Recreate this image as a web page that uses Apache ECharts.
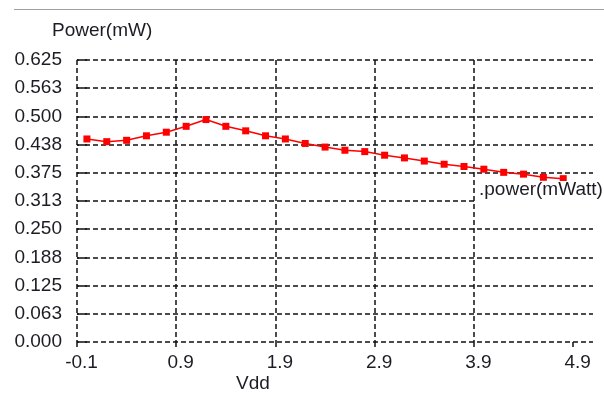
<!DOCTYPE html>
<html>
<head>
<meta charset="utf-8">
<script src="https://cdn.jsdelivr.net/npm/echarts@6/dist/echarts.min.js"></script>
<style>
html,body{margin:0;padding:0;background:#fff;}
#c{width:604px;height:394px;}
</style>
</head>
<body>
<div id="c"></div>
<script>
// Data
const vdd = [0.0, 0.2, 0.4, 0.6, 0.8, 1.0, 1.2, 1.4, 1.6, 1.8, 2.0, 2.2, 2.4, 2.6, 2.8, 3.0, 3.2, 3.4, 3.6, 3.8, 4.0, 4.2, 4.4, 4.6, 4.8];
const power = [0.450, 0.444, 0.447, 0.457, 0.465, 0.478, 0.493, 0.478, 0.468, 0.457, 0.450, 0.440, 0.432, 0.425, 0.422, 0.414, 0.408, 0.401, 0.394, 0.389, 0.383, 0.376, 0.372, 0.365, 0.362];
const xTickValues = [-0.1, 0.9, 1.9, 2.9, 3.9, 4.9];
const xTickLabels = ['-0.1', '0.9', '1.9', '2.9', '3.9', '4.9'];
const yTickLabels = ['0.000', '0.063', '0.125', '0.188', '0.250', '0.313', '0.375', '0.438', '0.500', '0.563', '0.625'];
const seriesName = '.power(mWatt)';
const xName = 'Vdd';
const yName = 'Power(mW)';

const FONT = "'Liberation Sans', Arial, sans-serif";
const TXT = '#1c1c24';
const gridLine = { color: '#111', width: 1.5, type: [5, 3] };

const chart = echarts.init(document.getElementById('c'), null, { renderer: 'canvas' });
chart.setOption({
  animation: false,
  backgroundColor: '#fff',
  grid: { left: 77, top: 60, width: 516, height: 282, containLabel: false },
  xAxis: {
    type: 'value', min: -0.1, max: 5.1, interval: 1,
    axisLine: { show: false },
    axisTick: { show: true, length: 8, lineStyle: gridLine, customValues: xTickValues },
    axisLabel: {
      customValues: xTickValues,
      formatter: v => { const i = xTickValues.findIndex(t => Math.abs(t - v) < 1e-6); return i >= 0 ? xTickLabels[i] : ''; },
      color: TXT, fontFamily: FONT, fontSize: 19, margin: 11, padding: [0, 0, 0, 9]
    },
    splitLine: { show: true, lineStyle: gridLine, showMaxLine: false }
  },
  yAxis: {
    type: 'value', min: 0, max: 0.625, interval: 0.0625,
    axisLine: { show: false },
    axisTick: { show: true, length: 10, lineStyle: gridLine },
    axisLabel: {
      formatter: v => yTickLabels[Math.round(v / 0.0625)],
      color: TXT, fontFamily: FONT, fontSize: 19, margin: 15
    },
    splitLine: { show: true, lineStyle: gridLine }
  },
  series: [{
    name: seriesName,
    type: 'line',
    data: vdd.map((x, i) => [x, power[i]]),
    symbol: 'rect', symbolSize: 7,
    lineStyle: { color: '#ff0000', width: 1.5 },
    itemStyle: { color: '#ff0000' },
    z: 5
  }],
  graphic: [
    { type: 'line', shape: { x1: 14, y1: 9.5, x2: 604, y2: 9.5 }, style: { stroke: '#a0a0a0', lineWidth: 1.2 }, z: 10 },
    { type: 'text', left: 52, top: 21, style: { text: yName, font: "19px " + FONT, fill: TXT }, z: 10 },
    { type: 'text', left: 236, top: 374, style: { text: xName, font: "19px " + FONT, fill: TXT }, z: 10 },
    { type: 'rect', shape: { x: 476, y: 181, width: 128, height: 23 }, style: { fill: '#fff' }, z: 10 },
    { type: 'text', left: 479, top: 180, style: { text: seriesName, font: "19px " + FONT, fill: TXT }, z: 11 }
  ]
});
</script>
</body>
</html>
